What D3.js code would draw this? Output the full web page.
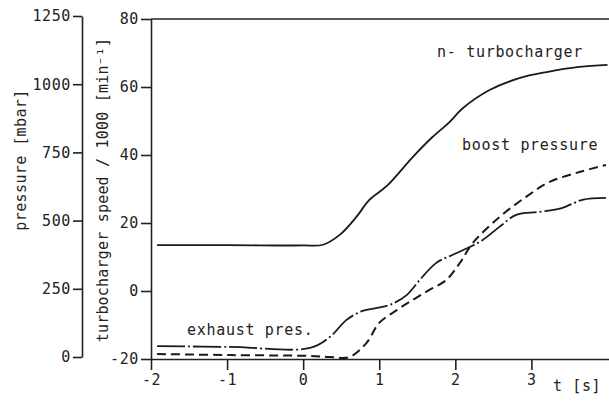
<!DOCTYPE html>
<html>
<head>
<meta charset="utf-8">
<script src="https://cdn.jsdelivr.net/npm/d3@7"></script>
<style>
  body { margin: 0; background: #fff; }
  text { font-family: "DejaVu Sans Mono", monospace; fill: #222; }
  .axis path, .axis line { stroke: #222; stroke-width: 1.6; }
  .axis text { font-size: 15px; letter-spacing: 0.6px; }
</style>
</head>
<body>
<div id="chart"></div>
<script>
// turbocharger speed / 1000 [min^-1]
var speedT = [-1.92, -1.0, 0.0, 0.26, 0.48, 0.70, 0.87, 1.10, 1.44, 1.70, 1.92, 2.09, 2.45, 2.84, 3.20, 3.63, 4.0];
var speedV = [13.5, 13.5, 13.4, 13.6, 16.5, 21.8, 26.8, 30.9, 39.4, 45.3, 49.6, 53.6, 59.1, 62.6, 64.4, 65.9, 66.5];

// exhaust pressure [mbar]
var exhaustT = [-1.92, -0.96, 0.09, 0.35, 0.57, 0.78, 0.97, 1.14, 1.36, 1.53, 1.75, 1.96, 2.19, 2.36, 2.58, 2.80, 3.10, 3.40, 3.67, 3.98];
var exhaustP = [40, 37, 33, 73, 136, 169, 180, 191, 227, 282, 345, 374, 403, 429, 477, 521, 532, 546, 576, 583];

// boost pressure [mbar]
var boostT = [-1.92, -0.96, 0.09, 0.35, 0.61, 0.83, 1.0, 1.23, 1.44, 1.66, 1.88, 2.06, 2.23, 2.58, 2.93, 3.24, 3.63, 3.98];
var boostP = [11, 7, 4, 0, 0, 51, 125, 172, 209, 246, 282, 345, 418, 513, 587, 642, 678, 704];

var timeTicks = [-2, -1, 0, 1, 2, 3];
var pressureTicks = [0, 250, 500, 750, 1000, 1250];
var speedTicks = [-20, 0, 20, 40, 60, 80];

var W = 609, H = 401;

var svg = d3.select("#chart")
  .append("svg")
    .attr("width", W)
    .attr("height", H);

var x = d3.scaleLinear().domain([-2, 4.02]).range([151, 609]);
var yP = d3.scaleLinear().domain([0, 1250]).range([357, 16]);
var yS = d3.scaleLinear().domain([-20, 80]).range([359, 19]);

var fmt = function(d) { return String(d); };

// pressure axis (outer left)
svg.append("g")
  .attr("class", "axis")
  .attr("transform", "translate(82,0)")
  .call(d3.axisLeft(yP).tickValues(pressureTicks).tickSize(9).tickSizeOuter(0).tickPadding(2).tickFormat(fmt));

// speed axis
svg.append("g")
  .attr("class", "axis")
  .attr("transform", "translate(151,0)")
  .call(d3.axisLeft(yS).tickValues(speedTicks).tickSize(10).tickSizeOuter(0).tickPadding(2).tickFormat(fmt));

// time axis
svg.append("g")
  .attr("class", "axis")
  .attr("transform", "translate(0," + yS(-20) + ")")
  .call(d3.axisBottom(x).tickValues(timeTicks).tickSize(11).tickSizeOuter(0).tickPadding(4).tickFormat(fmt));

// top frame line
svg.append("line")
  .attr("x1", x(-2)).attr("x2", W)
  .attr("y1", yS(80)).attr("y2", yS(80))
  .attr("stroke", "#222").attr("stroke-width", 1.6);

// axis titles
svg.append("text")
  .attr("transform", "translate(26,160) rotate(-90)")
  .style("text-anchor", "middle")
  .style("font-size", "15px")
  .style("letter-spacing", "0.4px")
  .text("pressure [mbar]");

svg.append("text")
  .attr("transform", "translate(108,190) rotate(-90)")
  .style("text-anchor", "middle")
  .style("font-size", "15px")
  .style("letter-spacing", "0.2px")
  .text("turbocharger speed / 1000 [min⁻¹]");

svg.append("text")
  .attr("x", 553).attr("y", 391)
  .style("font-size", "15px")
  .style("letter-spacing", "0.6px")
  .text("t [s]");

// curves
var zip = function(ts, vs) { return ts.map(function(t, i) { return [t, vs[i]]; }); };

var lineS = d3.line().x(function(d) { return x(d[0]); }).y(function(d) { return yS(d[1]); }).curve(d3.curveCatmullRom.alpha(0.5));
var lineP = d3.line().x(function(d) { return x(d[0]); }).y(function(d) { return yP(d[1]); }).curve(d3.curveCatmullRom.alpha(0.5));

svg.append("path")
  .datum(zip(speedT, speedV))
  .attr("d", lineS)
  .attr("fill", "none").attr("stroke", "#1a1a1a").attr("stroke-width", 1.8);

svg.append("path")
  .datum(zip(exhaustT, exhaustP))
  .attr("d", lineP)
  .attr("fill", "none").attr("stroke", "#1a1a1a").attr("stroke-width", 1.8)
  .attr("stroke-dasharray", "28,3,2,3");

svg.append("path")
  .datum(zip(boostT, boostP))
  .attr("d", lineP)
  .attr("fill", "none").attr("stroke", "#1a1a1a").attr("stroke-width", 2)
  .attr("stroke-dasharray", "9,5");

// curve labels
var labels = [
  {text: "n- turbocharger", x: 437, y: 57},
  {text: "boost pressure", x: 462, y: 150},
  {text: "exhaust pres.", x: 187, y: 335}
];
svg.selectAll("text.lbl")
  .data(labels)
  .enter()
  .append("text")
  .attr("class", "lbl")
  .attr("x", function(d) { return d.x; })
  .attr("y", function(d) { return d.y; })
  .style("font-size", "15px")
  .style("letter-spacing", "0.7px")
  .text(function(d) { return d.text; });
</script>
</body>
</html>
